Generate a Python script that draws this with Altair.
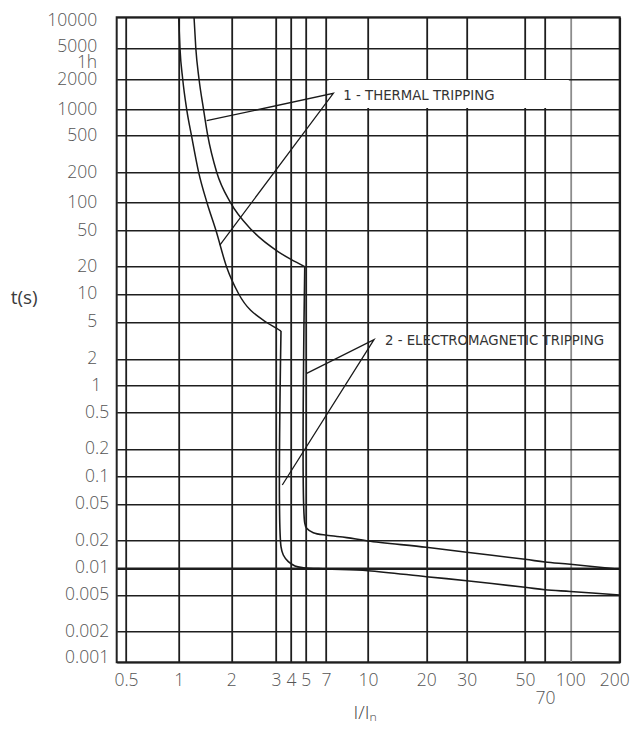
import altair as alt
import pandas as pd

# ---------------- data ----------------
# axis tick values
x_ticks = [0.5, 1, 2, 3, 4, 5, 7, 10, 20, 30, 50, 70, 100, 200]
y_ticks = [0.001, 0.002, 0.005, 0.01, 0.02, 0.05, 0.1, 0.2, 0.5, 1, 2, 5,
           10, 20, 50, 100, 200, 500, 1000, 2000, 3600, 5000, 10000]

# curve 1 : thermal part (left curve)
thermal_1_x = [1.0, 1.017, 1.054, 1.111, 1.184, 1.301, 1.452, 1.633, 1.878, 2.14, 2.74, 3.041, 3.302]
thermal_1_t = [10000, 5000, 2000, 1000, 500, 200, 100, 50, 20, 10, 5, 4.28, 4.0]
# curve 2 : thermal part (right curve)
thermal_2_x = [1.224, 1.253, 1.307, 1.387, 1.467, 1.650, 1.98, 2.413, 3.117, 4.0, 4.93]
thermal_2_t = [10000, 5000, 2000, 1000, 500, 200, 100, 50, 29.3, 24.0, 20]

# curve 1 : electromagnetic part (lower tail)
magnetic_1_x = [3.302, 3.302, 3.451, 3.799, 4.25, 4.821, 7, 10, 20, 30, 50, 70, 100, 200]
magnetic_1_t = [4.0, 0.01717, 0.01391, 0.01173, 0.01052, 0.01008, 0.00975, 0.00933,
                0.0080, 0.00722, 0.00609, 0.00573, 0.00547, 0.005]
# curve 2 : electromagnetic part (upper tail)
magnetic_2_x = [4.93, 4.93, 5.083, 5.67, 7.04, 8.35, 10, 20, 30, 50, 70, 100, 200]
magnetic_2_t = [20, 0.0311, 0.02726, 0.02442, 0.02288, 0.02161, 0.01985, 0.01691,
                0.0149, 0.01247, 0.01164, 0.01099, 0.00967]

# leader lines (end on curve -> apex -> end on curve)
leader_thermal_x = [1.446, 7.45, 1.72]
leader_thermal_t = [741, 1441, 34.5]
leader_magnetic_x = [5.083, 10.74, 3.385]
leader_magnetic_t = [1.372, 3.227, 0.0804]

# annotation labels
label_text = ["1 - THERMAL TRIPPING", "2 - ELECTROMAGNETIC TRIPPING"]
label_x = [8.11, 12.24]
label_t = [1371, 3.12]

# white box behind label 1 (between the 2000 and 1000 grid lines)
box_x = [7.15]
box_x2 = [98]
box_t = [1955]
box_t2 = [1030]

# ---------------- scale layout (piecewise, as drawn in the reference) ----------------
X_DOMAIN = [0.4425] + x_ticks
X_RANGE = [0, 9.3, 62, 114.6, 159.3, 174.3, 189, 209.3, 251.3, 309.6, 350, 408.3, 428.3, 453.6, 503]
Y_DOMAIN = [0.001, 0.002, 0.005, 0.01, 0.02, 0.05, 0.1, 0.2, 0.5, 1, 2, 5,
            10, 20, 50, 100, 200, 500, 1000, 2000, 5000, 10000]
Y_RANGE = [645, 614.4, 577.7, 550.7, 523.4, 486.7, 459, 431.7, 395, 368, 341.7, 304.7,
           276.7, 249.4, 213, 185.4, 155, 118.4, 92, 61.7, 31, 0]


def series(name, xs, ts):
    return pd.DataFrame({"x": xs, "t": ts, "s": name, "i": range(len(xs))})


thermal_df = pd.concat([series("c1", thermal_1_x, thermal_1_t),
                        series("c2", thermal_2_x, thermal_2_t)])
magnetic_df = pd.concat([series("c1", magnetic_1_x, magnetic_1_t),
                         series("c2", magnetic_2_x, magnetic_2_t)])
leader_df = pd.concat([series("l1", leader_thermal_x, leader_thermal_t),
                       series("l2", leader_magnetic_x, leader_magnetic_t)])
label_df = pd.DataFrame({"x": label_x, "t": label_t, "label": label_text})
box_df = pd.DataFrame({"x": box_x, "x2": box_x2, "t": box_t, "t2": box_t2})

LABEL_FONT = "Open Sans"
xscale = alt.Scale(type="log", domain=X_DOMAIN, range=X_RANGE, nice=False)
yscale = alt.Scale(type="log", domain=Y_DOMAIN, range=Y_RANGE, nice=False)

xaxis = alt.Axis(
    values=x_ticks, labelExpr="'' + datum.value", title="I/Iₙ",
    grid=True,
    gridColor={"condition": {"test": "datum.value == 100", "value": "#8c8c8c"}, "value": "#1e1e1e"},
    gridWidth=1.8, ticks=False, domain=False,
    labelFont=LABEL_FONT, labelFontSize=17.5, labelFontWeight=300, labelColor="#555555",
    labelPadding={"condition": {"test": "datum.value == 70", "value": 27}, "value": 9},
    labelAlign={"condition": {"test": "datum.value == 200", "value": "right"}, "value": "center"},
    labelOffset={"condition": {"test": "datum.value == 200", "value": 9.5}, "value": 0},
    labelBaseline="top", labelOverlap=False, labelFlush=False,
    titleFont=LABEL_FONT, titleFontSize=19, titleFontWeight=300, titleColor="#444444",
    titleX=248, titleY=56, titleAlign="center", titleBaseline="alphabetic",
)
yaxis = alt.Axis(
    values=y_ticks, labelExpr="datum.value == 3600 ? '1h' : '' + datum.value", title="t(s)",
    grid=True, gridColor="#1e1e1e",
    gridWidth={"condition": {"test": "datum.value == 0.01", "value": 2.6}, "value": 1.6},
    gridOpacity={"condition": {"test": "datum.value == 3600", "value": 0}, "value": 1},
    labelOffset={"condition": [
        {"test": "datum.value == 3600", "value": 3.5},
        {"test": "datum.value == 10000", "value": 3},
        {"test": "datum.value == 0.001", "value": -4.5},
        {"test": "datum.value == 5000", "value": -1.5},
    ], "value": 0},
    # labels are aligned on the decimal point, as in the reference
    labelPadding={"condition": [
        {"test": "datum.value < 1", "value": 8},
        {"test": "datum.value == 1", "value": 16},
    ], "value": 20},
    ticks=False, domain=False,
    labelFont=LABEL_FONT, labelFontSize=17.5, labelFontWeight=300, labelColor="#555555",
    labelOverlap=False, labelFlush=False,
    titleFont=LABEL_FONT, titleFontSize=19, titleFontWeight=400, titleColor="#3c3c3c",
    titleAngle=0, titleX=-93, titleY=280, titleAlign="center", titleBaseline="middle",
)

X = alt.X("x:Q", scale=xscale, axis=xaxis)
Y = alt.Y("t:Q", scale=yscale, axis=yaxis)

box = alt.Chart(box_df).mark_rect(color="white").encode(
    x=X, x2="x2:Q", y=Y, y2="t2:Q")

thermal = alt.Chart(thermal_df).mark_line(
    interpolate="monotone", color="#1a1a1a", strokeWidth=1.5).encode(
    x=X, y=Y, detail="s:N", order="i:Q")

magnetic = alt.Chart(magnetic_df).mark_line(
    interpolate="catmull-rom", color="#1a1a1a", strokeWidth=1.6).encode(
    x=X, y=Y, detail="s:N", order="i:Q")

leaders = alt.Chart(leader_df).mark_line(color="#1a1a1a", strokeWidth=1.3).encode(
    x=X, y=Y, detail="s:N", order="i:Q")

labels = alt.Chart(label_df).mark_text(
    align="left", baseline="middle",
    font="Liberation Sans Narrow, 'DejaVu Sans Condensed', sans-serif",
    fontSize=14.8, color="#333333").encode(x=X, y=Y, text="label:N")

chart = alt.layer(box, thermal, magnetic, leaders, labels).properties(
    width=503, height=645,
    autosize=alt.AutoSizeParams(type="none"),
    padding={"left": 108.7, "top": 9.3, "right": 10, "bottom": 64},
).configure_view(stroke="#222222", strokeWidth=2)

chart.save("out.html", embed_options={"renderer": "svg", "actions": False})
